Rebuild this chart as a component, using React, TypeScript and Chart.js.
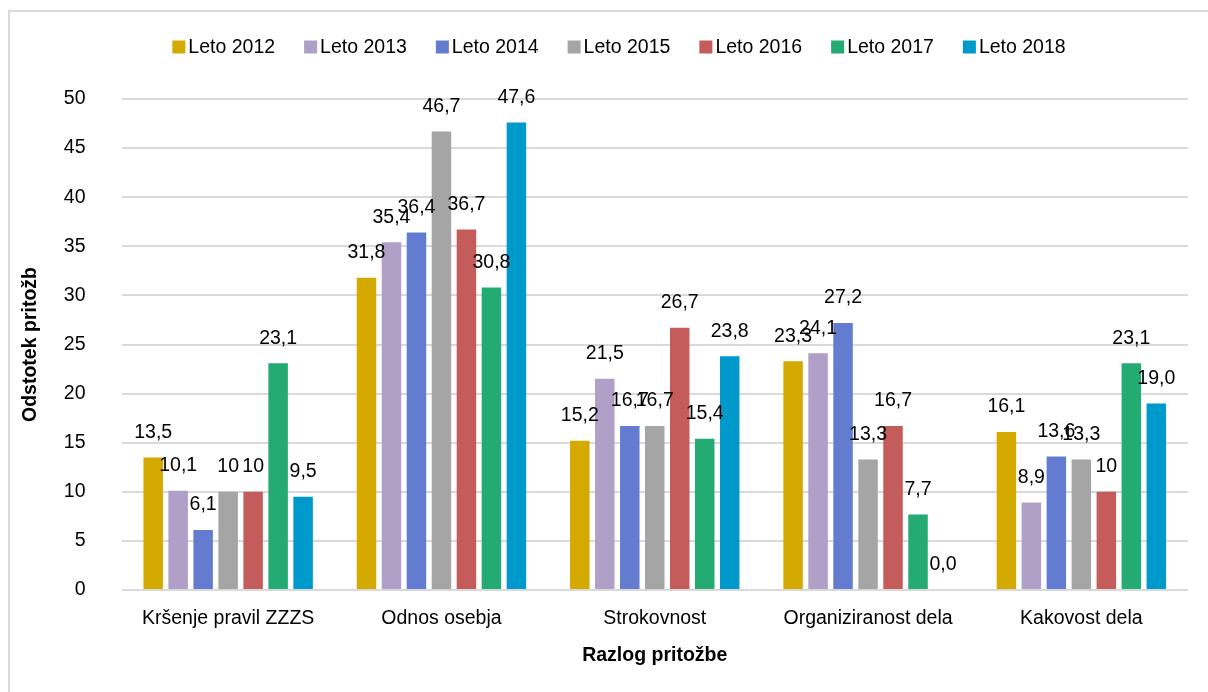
import React, { useEffect, useRef } from "react";
import { Chart, registerables } from "chart.js";

Chart.register(...registerables);

const categories = [
  "Kršenje pravil ZZZS",
  "Odnos osebja",
  "Strokovnost",
  "Organiziranost dela",
  "Kakovost dela",
];

const seriesNames = ["Leto 2012", "Leto 2013", "Leto 2014", "Leto 2015", "Leto 2016", "Leto 2017", "Leto 2018"];

// values as printed on the bars (Slovenian decimal comma)
const leto2012 = ["13,5", "31,8", "15,2", "23,3", "16,1"];
const leto2013 = ["10,1", "35,4", "21,5", "24,1", "8,9"];
const leto2014 = ["6,1", "36,4", "16,7", "27,2", "13,6"];
const leto2015 = ["10", "46,7", "16,7", "13,3", "13,3"];
const leto2016 = ["10", "36,7", "26,7", "16,7", "10"];
const leto2017 = ["23,1", "30,8", "15,4", "7,7", "23,1"];
const leto2018 = ["9,5", "47,6", "23,8", "0,0", "19,0"];

const seriesValues = [leto2012, leto2013, leto2014, leto2015, leto2016, leto2017, leto2018];
const seriesColors = ["#D4AA00", "#B09FC6", "#637CCF", "#A5A5A5", "#C55C5C", "#24AA73", "#0099CC"];

const yTicks = [0, 5, 10, 15, 20, 25, 30, 35, 40, 45, 50];

const FONT = "'Liberation Sans', Arial, Helvetica, sans-serif";
const toNum = (s: string) => parseFloat(s.replace(",", "."));

const W = 1198;
const H = 680;

const dataLabelPlugin = {
  id: "dataLabels",
  afterDatasetsDraw(chart: any) {
    const ctx = chart.ctx;
    ctx.save();
    ctx.font = `19.5px ${FONT}`;
    ctx.fillStyle = "#000";
    ctx.textAlign = "center";
    ctx.textBaseline = "middle";
    chart.data.datasets.forEach((ds: any, di: number) => {
      const meta = chart.getDatasetMeta(di);
      meta.data.forEach((el: any, i: number) => {
        const txt = ds.labelsText[i];
        ctx.fillText(txt, el.x, el.y - 25);
      });
    });
    ctx.restore();
  },
};

const legendPlugin = {
  id: "customLegend",
  afterDraw(chart: any) {
    const ctx = chart.ctx;
    ctx.save();
    ctx.font = `19.5px ${FONT}`;
    ctx.textBaseline = "middle";
    ctx.textAlign = "left";
    const box = 13;
    const boxGap = 3;
    const gap = 29;
    const widths = seriesNames.map((n) => box + boxGap + ctx.measureText(n).width);
    const total = widths.reduce((a, b) => a + b, 0) + gap * (widths.length - 1);
    let x = 609 - total / 2;
    const cy = 35;
    seriesNames.forEach((n, i) => {
      ctx.fillStyle = seriesColors[i];
      ctx.fillRect(x, cy - box / 2, box, box);
      ctx.fillStyle = "#000";
      ctx.fillText(n, x + box + boxGap, cy + 1);
      x += widths[i] + gap;
    });
    ctx.restore();
  },
};

export default function App() {
  const ref = useRef<HTMLCanvasElement>(null);

  useEffect(() => {
    if (!ref.current) return;
    const chart = new Chart(ref.current, {
      type: "bar",
      data: {
        labels: categories,
        datasets: seriesValues.map((vals, i) => ({
          label: seriesNames[i],
          data: vals.map(toNum),
          labelsText: vals,
          backgroundColor: seriesColors[i],
          borderWidth: 0,
          categoryPercentage: 0.82,
          barPercentage: 0.78,
        })) as any,
      },
      options: {
        responsive: false,
        animation: false,
        devicePixelRatio: 1,
        layout: { padding: { top: 87, right: 20, bottom: 0, left: 0 } },
        plugins: {
          legend: { display: false },
          tooltip: { enabled: false },
        },
        scales: {
          x: {
            grid: { display: false, drawTicks: false },
            border: { display: false },
            ticks: {
              color: "#000",
              font: { family: FONT, size: 19.5 },
              padding: 17,
              maxRotation: 0,
              autoSkip: false,
            },
            title: {
              display: true,
              text: "Razlog pritožbe",
              color: "#000",
              font: { family: FONT, size: 19.5, weight: "bold" },
              padding: { top: 0, bottom: 24.3 },
            },
            afterFit: (scale: any) => {
              scale.height = 102;
            },
          },
          y: {
            min: 0,
            max: 50,
            afterBuildTicks: (scale: any) => {
              scale.ticks = yTicks.map((v) => ({ value: v }));
            },
            grid: { color: "#D9D9D9", lineWidth: 2, drawTicks: false },
            border: { display: false },
            ticks: {
              color: "#000",
              font: { family: FONT, size: 19.5 },
              padding: 36,
            },
            title: {
              display: true,
              text: "Odstotek pritožb",
              color: "#000",
              font: { family: FONT, size: 19.5, weight: "bold" },
              padding: { top: 9.3, bottom: 0 },
            },
            afterFit: (scale: any) => {
              scale.width = 111.5;
            },
          },
        },
      },
      plugins: [dataLabelPlugin, legendPlugin],
    });
    return () => chart.destroy();
  }, []);

  return (
    <div
      style={{
        position: "fixed",
        left: 8,
        top: 10,
        width: 1200,
        height: 682,
        boxSizing: "border-box",
        borderLeft: "2px solid #D9D9D9",
        borderTop: "2px solid #D9D9D9",
        background: "#fff",
      }}
    >
      <canvas ref={ref} width={W} height={H} style={{ display: "block", width: W, height: H }} />
    </div>
  );
}
